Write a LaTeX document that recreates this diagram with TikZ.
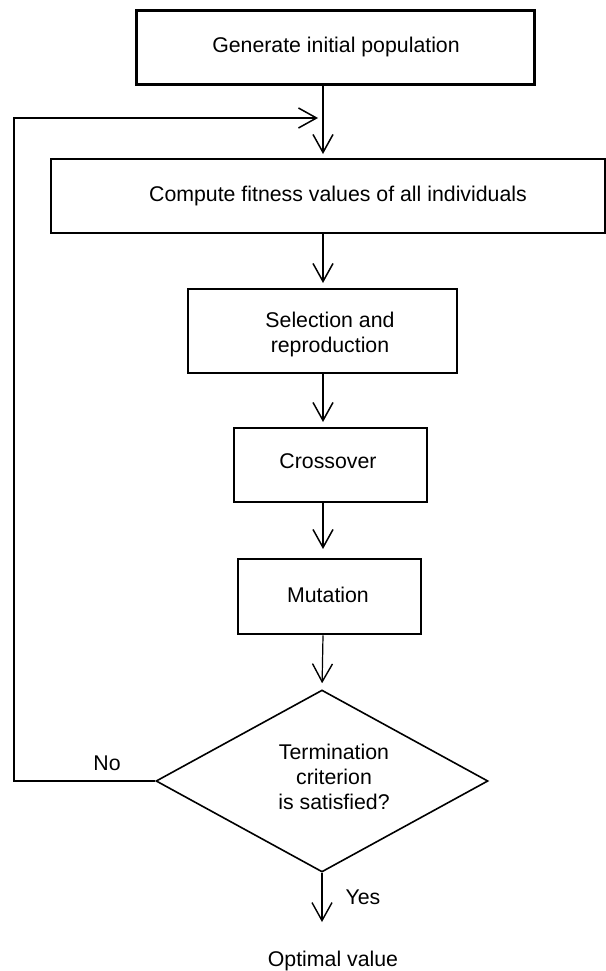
\documentclass[tikz,border=0pt]{standalone}
\usepackage{fontspec}
\setmainfont{Liberation Sans}
\usetikzlibrary{arrows.meta,shapes.geometric}
\begin{document}
\begin{tikzpicture}[x=1pt,y=-1pt,
  box/.style={draw, line width=2.2pt, inner sep=0pt, anchor=north west},
  lbl/.style={font=\fontsize{21.3}{25}\selectfont, align=center, inner sep=0pt},
  arr/.style={line width=1.9pt, -{Straight Barb[length=18pt,width=20pt,line width=1.5pt]}},
  thinarr/.style={line width=1.2pt, -{Straight Barb[length=18pt,width=20pt,line width=1.4pt]}},
]
% canvas
\fill[white] (0,0) rectangle (605,971);
\useasboundingbox (0,0) rectangle (605,971);

% process boxes
\node[box, minimum width=398pt, minimum height=74pt, line width=2.6pt] (gen) at (135,9) {};
\node[box, minimum width=554pt, minimum height=74pt] (comp)  at (50,158)  {};
\node[box, minimum width=269pt, minimum height=84pt] (sel)   at (187,288) {};
\node[box, minimum width=193pt, minimum height=74pt, line width=1.8pt] (cross) at (233,427) {};
\node[box, minimum width=183pt, minimum height=75pt, line width=2.4pt] (mut)   at (237,558) {};

% decision
\node[draw, shape=diamond, line width=1.6pt, inner sep=0pt, aspect=1.82,
      minimum width=332pt, minimum height=182pt] (dia) at (322,781) {};

% texts
\node[lbl] (tgen)   at (336,47)  {Generate initial population};
\node[lbl] (tcomp)  at (338,196) {Compute fitness values of all individuals};
\node[lbl] (tsel)   at (330,334) {Selection and\\reproduction};
\node[lbl] (tcross) at (328,461) {Crossover};
\node[lbl] (tmut)   at (328,595) {Mutation};
\node[lbl] (tdia)   at (334,777) {Termination\\criterion\\is satisfied?};
\node[lbl] (no)     at (107,763) {No};
\node[lbl] (yes)    at (363,897) {Yes};
\node[lbl] (opt)    at (333,961) {Optimal value};

% guide coordinates
\coordinate (sp)   at (323,0);
\coordinate (rail) at (14,0);
\coordinate (fbin) at (323,118);
\coordinate (out)  at (322,922);

% main flow
\draw[arr, shorten >=4pt]    (gen.south -| sp)   -- (comp.north -| sp);
\draw[arr, line width=2.4pt, shorten >=5pt] (comp.south -| sp) -- (sel.north -| sp);
\draw[arr, shorten >=5pt]    (sel.south -| sp)   -- (cross.north -| sp);
\draw[arr, shorten >=9pt]    (cross.south -| sp) -- (mut.north -| sp);
\draw[thinarr, shorten >=6pt] (mut.south -| sp)  -- (dia.north);
\draw[thinarr]               (dia.south)         -- (out);

% feedback loop
\draw[arr, line width=2.4pt, shorten >=5pt]
  (dia.west) -- (dia.west -| rail) -- (fbin -| rail) -- (fbin);
\end{tikzpicture}
\end{document}
